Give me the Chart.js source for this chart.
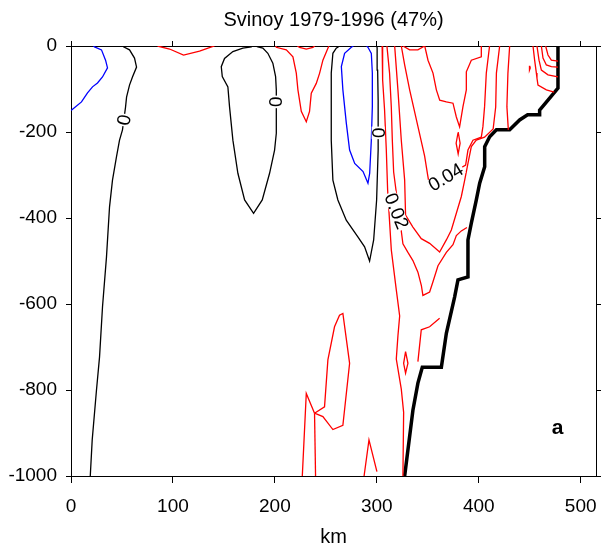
<!DOCTYPE html>
<html>
<head>
<meta charset="utf-8">
<title>Svinoy 1979-1996</title>
<script src="https://cdn.jsdelivr.net/npm/chart.js@4/dist/chart.umd.min.js"></script>
<style>
  html, body { margin: 0; padding: 0; background: #fff; overflow: hidden; }
  canvas { display: block; }
</style>
</head>
<body>
<canvas id="section_chart" width="602" height="552"></canvas>
<script>
// axis ranges and ticks
const km_range = [0, 515];
const depth_range = [-1000, 0];
const x_ticks = [0, 100, 200, 300, 400, 500];
const y_ticks = [-1000, -800, -600, -400, -200, 0];

// contour lines, [km, depth m]
// negative level (blue)
const blue_west = [[22,0],[23.1,-2],[29.9,-9],[33.9,-33],[35.8,-51],[30.9,-72],[26,-86],[21.1,-95],[16.2,-109],[10.3,-130],[1.5,-147],[0,-150]];
const blue_slope = [[277,0],[275,-3],[268.4,-17],[265.2,-48],[266.7,-102],[270.1,-180],[273.3,-242],[278.3,-273],[286.5,-292],[291.3,-319],[293,-296],[294.6,-219],[295.6,-141],[295.6,-63],[294.6,-17],[291.3,-3],[290,0]];

// zero level (black)
const zero_west = [[51,0],[51.5,-2],[57.4,-9],[62.3,-28],[64.3,-49],[60.3,-72],[57.4,-91],[54.5,-119],[53.5,-142],[50.5,-195],[47.6,-219],[44.6,-258],[40.7,-312],[37.8,-374],[34.8,-491],[30.9,-607],[28,-723],[25,-800],[20.8,-916],[18.9,-1000]];
const zero_mid = [[178,0],[176.8,-2],[168.6,-5],[158.8,-13],[150.6,-29],[147.4,-48],[148.4,-71],[153.9,-95],[155.5,-141],[158.8,-219],[163.7,-296],[170.3,-358],[179.1,-389],[187.6,-358],[194.8,-296],[199.7,-242],[201.4,-203],[201.4,-153],[201.4,-102],[200.7,-71],[198,-40],[193.1,-17],[188.2,-5],[183.3,-2],[181,0]];
const zero_slope = [[263.5,0],[260.2,-5],[256.9,-17],[255.3,-63],[255.3,-219],[256.9,-312],[261.8,-358],[270,-405],[281.4,-444],[288,-467],[292.9,-500],[296.9,-451],[299.8,-358],[301.3,-242],[301.3,-126],[300.8,-56],[300.3,-5],[300,0]];

// positive levels (red)
const red_west = [[84.9,0],[96.7,-7],[110.4,-21],[126.1,-12],[137.9,-2],[140.8,0]];
const red_mid = [[201,0],[201.4,-3],[211.2,-9],[217.7,-25],[221,-63],[222.6,-102],[225.9,-152],[230.8,-176],[234,-152],[235.7,-110],[240.6,-87],[243.9,-63],[247.1,-33],[252,-5],[253,0]];
const red_mid_top = [[222,0],[224.2,-3],[230.8,-7],[237.3,-3],[239,0]];
const red_deep_leg1 = [[226.9,-1000],[230.8,-808],[238.9,-854]];
const red_deep_leg2 = [[239.9,-1000],[238.9,-854]];
const red_deep_loop = [[238.9,-854],[248.7,-839],[252,-730],[258.5,-653],[263.4,-626],[266.7,-622],[273.3,-738],[266.7,-882],[256.9,-892],[247.1,-862],[238.9,-854]];
const red_deep_peak = [[287.5,-1000],[292.3,-916],[300.1,-990]];
const red_slope1 = [[305.2,0],[305.4,-2],[306,-79],[307.6,-149],[309.3,-242],[310.6,-335],[314.2,-474],[319.1,-567],[322.4,-628],[320.7,-674],[319.1,-728],[324,-798],[326.3,-852],[325.6,-1000]];
const red_slope2 = [[309.9,0],[312.5,-63],[314.2,-142],[315.2,-219],[316.5,-293],[325.6,-460],[330.5,-480],[335.4,-499],[340.3,-526],[343.7,-557],[345.2,-580],[351.8,-572],[355,-549],[360,-511],[368.2,-480],[374.7,-462],[378,-441],[382.9,-430],[388.4,-422]];
const red_slope3 = [[317.5,0],[320.7,-102],[324,-219],[327.3,-312],[328.2,-393],[335.4,-421],[343.6,-448],[351.8,-459],[361.6,-479],[368.2,-451],[373.1,-428],[378,-389],[382.9,-350],[386.2,-312],[389.4,-273],[392.7,-234],[397.6,-219],[405.7,-212],[414.1,-193],[416.6,-142],[417.3,-63],[420.5,0]];
const red_core = [[324,0],[327.3,-44],[332.2,-102],[336.2,-144],[340.3,-187],[346.9,-256],[349.8,-299],[351.8,-327],[387.1,-277],[389.4,-242],[394.3,-219],[402.5,-212],[404.1,-187],[405.7,-141],[407.4,-63],[410.6,0]];
const red_bump = [[325.6,0],[332.2,-9],[340.3,-9],[346.9,0]];
const red_vee = [[347,0],[350.2,-33],[355.1,-63],[358.4,-102],[361.7,-126],[368.2,-130],[374.7,-133],[378,-165],[381.2,-188],[384.5,-141],[387.8,-102],[387.8,-60],[392.7,-33],[402.5,-25],[402.5,0]];
const red_shelf = [[430.3,0],[428.6,-63],[427.6,-141],[429,-195]];
const red_cell1 = [[379.8,-200],[377.8,-226],[379.8,-251],[381.7,-226],[379.8,-200]];
const red_cell2 = [[328.2,-711],[326.3,-738],[328.2,-761],[330.5,-738],[328.2,-711]];
const red_cell3 = [[450,-46],[449.5,-51],[450,-56],[450.5,-51],[450,-46]];
const red_lower = [[340.3,-734],[343.6,-660],[351.8,-653],[361.6,-633]];
const red_top1 = [[453.2,0],[454.8,-33],[456.5,-63],[457.1,-75],[458.1,-91],[466.3,-102],[474,-107]];
const red_top2 = [[457.1,0],[459.1,-33],[461.4,-56],[467.9,-67],[477.7,-72]];
const red_top3 = [[461.4,0],[463,-28],[466.3,-44],[471.2,-48],[477.7,-49]];
const red_top4 = [[465.6,0],[467.9,-21],[471.2,-33],[477.7,-35]];

// bottom topography
const bottom_line = [[477.7,0],[477.7,-98],[467.9,-126],[459.7,-149],[459.7,-160],[447.9,-160],[440.1,-172],[430.3,-195],[417.3,-195],[410.7,-211],[405.8,-234],[405.8,-281],[400.9,-319],[397.6,-358],[392.7,-412],[389.4,-451],[389.4,-537],[379.6,-544],[376.3,-584],[368.2,-668],[363.3,-747],[344.6,-747],[340.3,-784],[335.4,-847],[327.3,-1000]];

const FONT = "'Liberation Sans', Arial, Helvetica, sans-serif";

function contour(points, color, width) {
  return {
    data: points.map(p => ({ x: p[0], y: p[1] })),
    showLine: true,
    borderColor: color,
    borderWidth: width || 1.3,
    pointRadius: 0,
    fill: false,
    tension: 0
  };
}

// level labels sit on the lines, white box underneath
const level_labels = [
  { text: '0', km: 52, depth: -172, angle: -80 },
  { text: '0', km: 200.8, depth: -130, angle: 90 },
  { text: '0', km: 301.3, depth: -202, angle: 90 },
  { text: '0.02', km: 319.4, depth: -384, angle: 68 },
  { text: '0.04', km: 367.5, depth: -305, angle: -31 }
];

const label_plugin = {
  id: 'level_labels',
  afterDatasetsDraw(chart) {
    const ctx = chart.ctx;
    const xs = chart.scales.x, ys = chart.scales.y;
    ctx.save();
    ctx.font = '19px ' + FONT;
    ctx.textAlign = 'center';
    ctx.textBaseline = 'middle';
    level_labels.forEach(function (lab) {
      const px = xs.getPixelForValue(lab.km);
      const py = ys.getPixelForValue(lab.depth);
      const w = ctx.measureText(lab.text).width;
      ctx.save();
      ctx.translate(px, py);
      ctx.rotate(lab.angle * Math.PI / 180);
      ctx.fillStyle = '#fff';
      ctx.fillRect(-w / 2 - 1, -6.5, w + 2, 13);
      ctx.fillStyle = '#000';
      ctx.fillText(lab.text, 0, 1);
      ctx.restore();
    });
    // panel letter
    ctx.font = 'bold 21px ' + FONT;
    ctx.fillStyle = '#000';
    ctx.fillText('a', xs.getPixelForValue(477.4), ys.getPixelForValue(-888));
    ctx.restore();
  }
};

function frame_axis(position, ticks, min, max, size, tick_len) {
  return {
    type: 'linear',
    position: position,
    min: min,
    max: max,
    afterBuildTicks: axis => { axis.ticks = ticks.map(v => ({ value: v })); },
    afterFit: axis => {
      if (axis.isHorizontal()) axis.height = size; else axis.width = size;
      // keep the plot box fixed, no room for label overhang
      axis.paddingLeft = 0; axis.paddingRight = 0;
      axis.paddingTop = 0; axis.paddingBottom = 0;
    },
    ticks: { display: false },
    grid: { drawOnChartArea: false, drawTicks: true, tickLength: tick_len, color: '#000', lineWidth: 1 },
    border: { display: true, color: '#000', width: 1 }
  };
}

const datasets = [
  contour(red_west, '#ff0000'),
  contour(red_mid, '#ff0000'),
  contour(red_mid_top, '#ff0000'),
  contour(red_deep_leg1, '#ff0000'),
  contour(red_deep_leg2, '#ff0000'),
  contour(red_deep_loop, '#ff0000'),
  contour(red_deep_peak, '#ff0000'),
  contour(red_slope1, '#ff0000'),
  contour(red_slope2, '#ff0000'),
  contour(red_slope3, '#ff0000'),
  contour(red_core, '#ff0000'),
  contour(red_bump, '#ff0000'),
  contour(red_vee, '#ff0000'),
  contour(red_shelf, '#ff0000'),
  contour(red_cell1, '#ff0000'),
  contour(red_cell2, '#ff0000'),
  contour(red_cell3, '#ff0000'),
  contour(red_lower, '#ff0000'),
  contour(red_top1, '#ff0000'),
  contour(red_top2, '#ff0000'),
  contour(red_top3, '#ff0000'),
  contour(red_top4, '#ff0000'),
  contour(blue_west, '#0000ff'),
  contour(blue_slope, '#0000ff'),
  contour(zero_west, '#000000'),
  contour(zero_mid, '#000000'),
  contour(zero_slope, '#000000'),
  contour(bottom_line, '#000000', 3.5)
];

const x_axis = frame_axis('bottom', x_ticks, km_range[0], km_range[1], 76, 7);
x_axis.ticks = { display: true, color: '#000', padding: 12, font: { family: FONT, size: 19 }, maxRotation: 0, callback: v => String(v) };
x_axis.title = { display: true, text: 'km', color: '#000', font: { family: FONT, size: 20 }, padding: { top: 0, bottom: 3 } };

const y_axis = frame_axis('left', y_ticks, depth_range[0], depth_range[1], 71, 5);
y_axis.ticks = { display: true, color: '#000', padding: 9, font: { family: FONT, size: 19 }, callback: v => String(v) };

new Chart(document.getElementById('section_chart').getContext('2d'), {
  type: 'scatter',
  data: { datasets: datasets },
  options: {
    responsive: false,
    animation: false,
    events: [],
    layout: { padding: 0 },
    plugins: {
      legend: { display: false },
      tooltip: { enabled: false },
      title: {
        display: true,
        fullSize: false,
        text: 'Svinoy 1979-1996 (47%)',
        color: '#000',
        font: { family: FONT, size: 20, weight: 'normal' },
        padding: { top: 8, bottom: 0 }
      }
    },
    scales: {
      x: x_axis,
      y: y_axis,
      x2: frame_axis('top', x_ticks, km_range[0], km_range[1], 14, 5),
      y2: frame_axis('right', y_ticks, depth_range[0], depth_range[1], 6, 5)
    }
  },
  plugins: [label_plugin]
});
</script>
</body>
</html>
